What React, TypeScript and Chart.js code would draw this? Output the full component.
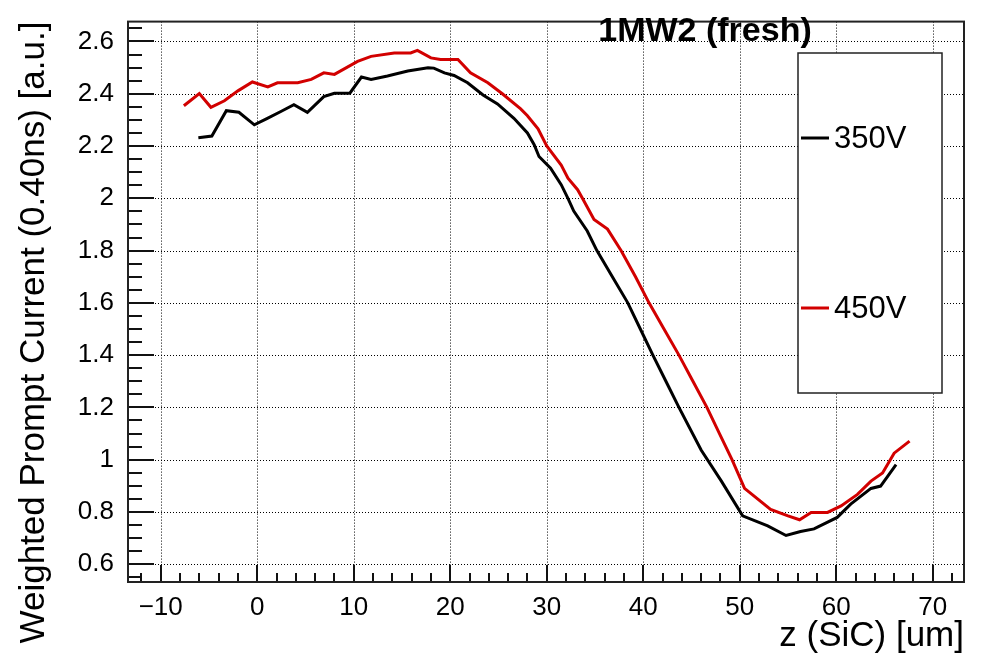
import React, { useEffect, useRef } from 'react';
import { Chart, registerables } from 'chart.js';

Chart.register(...registerables);

// ---------- data ----------
const PLOT_TITLE = '1MW2 (fresh)';
const X_TITLE = 'z (SiC) [um]';
const Y_TITLE = 'Weighted Prompt Current (0.40ns) [a.u.]';
const SERIES_LABELS = ['350V', '450V'];
const SERIES_COLORS = ['#000000', '#d20000'];

const z350 = [-6.1, -4.7, -3.2, -1.9, -0.3, 1.0, 2.5, 3.8, 5.2, 6.9, 8.0, 9.6, 10.8, 11.8, 13.5, 15.6, 17.7, 18.3, 19.4, 20.4, 21.8, 23.4, 24.9, 26.6, 28.0, 28.7, 29.2, 30.4, 31.5, 32.2, 32.8, 34.2, 35.2, 36.8, 38.4, 39.7, 41.0, 42.35, 43.7, 46.0, 48.1, 50.3, 52.9, 54.8, 56.3, 57.7, 60.1, 61.5, 63.6, 64.6, 66.2];
const i350 = [2.232, 2.238, 2.335, 2.329, 2.281, 2.305, 2.333, 2.358, 2.329, 2.389, 2.402, 2.402, 2.464, 2.455, 2.468, 2.487, 2.499, 2.498, 2.480, 2.470, 2.442, 2.395, 2.361, 2.306, 2.250, 2.205, 2.160, 2.115, 2.052, 2.000, 1.951, 1.875, 1.800, 1.700, 1.600, 1.500, 1.400, 1.300, 1.200, 1.037, 0.918, 0.785, 0.747, 0.710, 0.725, 0.735, 0.779, 0.830, 0.890, 0.899, 0.981];

const z450 = [-7.6, -6.0, -4.8, -3.4, -2.0, -0.5, 1.1, 2.1, 4.2, 5.6, 6.9, 8.0, 10.4, 11.8, 14.2, 15.9, 16.6, 18.0, 19.0, 20.8, 22.1, 23.9, 25.4, 27.3, 28.0, 29.1, 30.0, 31.5, 32.2, 33.2, 33.7, 34.9, 36.3, 37.7, 39.2, 40.6, 42.15, 43.7, 45.15, 46.6, 47.9, 49.2, 50.5, 53.2, 55.0, 56.2, 57.4, 59.1, 60.5, 62.2, 63.6, 64.8, 66.0, 67.6];
const i450 = [2.354, 2.401, 2.348, 2.373, 2.411, 2.445, 2.426, 2.442, 2.442, 2.455, 2.480, 2.474, 2.524, 2.543, 2.556, 2.556, 2.566, 2.537, 2.531, 2.531, 2.480, 2.442, 2.400, 2.342, 2.316, 2.266, 2.200, 2.127, 2.077, 2.033, 2.000, 1.919, 1.882, 1.800, 1.700, 1.600, 1.500, 1.400, 1.300, 1.200, 1.100, 1.000, 0.890, 0.810, 0.785, 0.770, 0.798, 0.798, 0.823, 0.867, 0.918, 0.949, 1.025, 1.071];

const X_MIN = -13.39;
const X_MAX = 73.24;
const Y_MIN = 0.532;
const Y_MAX = 2.676;
const X_STEP = 10;
const Y_STEP = 0.2;
const X_MINOR = 2;
const Y_MINOR = 0.05;

const FONT = '"Liberation Sans", Arial, Helvetica, sans-serif';

const rootStyle = {
  id: 'rootStyle',
  beforeDatasetsDraw(chart: any) {
    const { ctx, chartArea } = chart;
    const { left, right, top, bottom } = chartArea;
    const xs = chart.scales.x;
    const ys = chart.scales.y;
    ctx.save();
    ctx.strokeStyle = '#000';
    ctx.lineWidth = 1;
    ctx.setLineDash([1, 2]);
    xs.ticks.forEach((t: any) => {
      const px = Math.round(xs.getPixelForValue(t.value)) + 0.5;
      ctx.beginPath();
      ctx.moveTo(px, top);
      ctx.lineTo(px, bottom);
      ctx.stroke();
    });
    ys.ticks.forEach((t: any) => {
      const py = Math.round(ys.getPixelForValue(t.value)) + 0.5;
      ctx.beginPath();
      ctx.moveTo(left, py);
      ctx.lineTo(right, py);
      ctx.stroke();
    });
    ctx.restore();
  },
  afterDatasetsDraw(chart: any) {
    const { ctx, chartArea } = chart;
    const { left, right, top, bottom } = chartArea;
    const xs = chart.scales.x;
    const ys = chart.scales.y;
    ctx.save();
    ctx.setLineDash([]);
    ctx.strokeStyle = '#111';
    ctx.lineWidth = 2;
    // x ticks (inward)
    for (let k = Math.ceil(X_MIN / X_MINOR); k * X_MINOR <= X_MAX; k++) {
      const v = k * X_MINOR;
      const major = Math.abs(v % X_STEP) < 1e-9;
      const px = Math.round(xs.getPixelForValue(v));
      ctx.beginPath();
      ctx.moveTo(px, bottom);
      ctx.lineTo(px, bottom - (major ? 17 : 9));
      ctx.stroke();
    }
    // y ticks (inward)
    for (let k = Math.ceil(Y_MIN / Y_MINOR - 1e-9); k * Y_MINOR <= Y_MAX + 1e-9; k++) {
      const major = k % 4 === 0;
      const py = Math.round(ys.getPixelForValue(k * Y_MINOR));
      ctx.beginPath();
      ctx.moveTo(left, py);
      ctx.lineTo(left + (major ? 26 : 14), py);
      ctx.stroke();
    }
    // frame
    ctx.strokeStyle = '#222';
    ctx.lineWidth = 2;
    ctx.strokeRect(left, top, right - left, bottom - top);

    // legend box
    const lx = 798, ly = 53, lw = 144, lh = 340;
    ctx.fillStyle = '#fff';
    ctx.fillRect(lx, ly, lw, lh);
    ctx.strokeStyle = '#222';
    ctx.lineWidth = 1.5;
    ctx.strokeRect(lx, ly, lw, lh);
    const n = chart.data.datasets.length;
    chart.data.datasets.forEach((ds: any, i: number) => {
      const cy = ly + (lh * (i + 0.5)) / n;
      ctx.strokeStyle = ds.borderColor;
      ctx.lineWidth = 3;
      ctx.beginPath();
      ctx.moveTo(801, cy);
      ctx.lineTo(829, cy);
      ctx.stroke();
      ctx.fillStyle = '#000';
      ctx.font = `31px ${FONT}`;
      ctx.textAlign = 'left';
      ctx.textBaseline = 'middle';
      ctx.fillText(ds.label, 834, cy + 1);
    });

    // plot title
    ctx.fillStyle = '#000';
    ctx.font = `bold 34px ${FONT}`;
    ctx.textAlign = 'center';
    ctx.textBaseline = 'alphabetic';
    ctx.fillText(PLOT_TITLE, 705, 41);
    ctx.restore();
  },
};

export default function App() {
  const ref = useRef<HTMLCanvasElement | null>(null);

  useEffect(() => {
    if (!ref.current) return;
    const chart = new Chart(ref.current, {
      type: 'line',
      data: {
        datasets: [
          {
            label: SERIES_LABELS[0],
            data: z350.map((x, i) => ({ x, y: i350[i] })),
            borderColor: SERIES_COLORS[0],
            backgroundColor: SERIES_COLORS[0],
            borderWidth: 3,
            pointRadius: 0,
            tension: 0,
            fill: false,
          },
          {
            label: SERIES_LABELS[1],
            data: z450.map((x, i) => ({ x, y: i450[i] })),
            borderColor: SERIES_COLORS[1],
            backgroundColor: SERIES_COLORS[1],
            borderWidth: 3,
            pointRadius: 0,
            tension: 0,
            fill: false,
          },
        ],
      },
      options: {
        animation: false,
        responsive: false,
        maintainAspectRatio: false,
        devicePixelRatio: 1,
        layout: { padding: { left: 0, right: 23, top: 15, bottom: 0 } },
        plugins: {
          legend: { display: false },
          tooltip: { enabled: false },
          title: { display: false },
        },
        scales: {
          x: {
            type: 'linear',
            min: X_MIN,
            max: X_MAX,
            grid: { display: false },
            border: { display: false },
            ticks: {
              stepSize: X_STEP,
              includeBounds: false,
              autoSkip: false,
              maxRotation: 0,
              padding: 2,
              color: '#000',
              font: { family: FONT, size: 26 },
              callback: (v: any) => (v < 0 ? '\u2212' + Math.abs(Math.round(v)) : String(Math.round(v))),
            },
            title: {
              display: true,
              text: X_TITLE,
              align: 'end',
              color: '#000',
              font: { family: FONT, size: 35 },
              padding: { top: 0, bottom: 14 },
            },
            afterFit: (s: any) => {
              s.height = 89;
            },
          },
          y: {
            type: 'linear',
            min: Y_MIN,
            max: Y_MAX,
            grid: { display: false },
            border: { display: false },
            ticks: {
              stepSize: Y_STEP,
              includeBounds: false,
              autoSkip: false,
              padding: 6,
              color: '#000',
              font: { family: FONT, size: 26 },
              callback: (v: any) => String(Math.round(v * 10) / 10),
            },
            title: {
              display: true,
              text: Y_TITLE,
              align: 'end',
              color: '#000',
              font: { family: FONT, size: 35 },
              padding: { top: 13, bottom: 0 },
            },
            afterFit: (s: any) => {
              s.width = 128;
            },
          },
        },
      },
      plugins: [rootStyle],
    } as any);
    return () => chart.destroy();
  }, []);

  return (
    <div style={{ position: 'absolute', left: 0, top: 0, width: 987, height: 671, background: '#fff' }}>
      <canvas ref={ref} width={987} height={671} style={{ display: 'block', width: 987, height: 671 }} />
    </div>
  );
}
